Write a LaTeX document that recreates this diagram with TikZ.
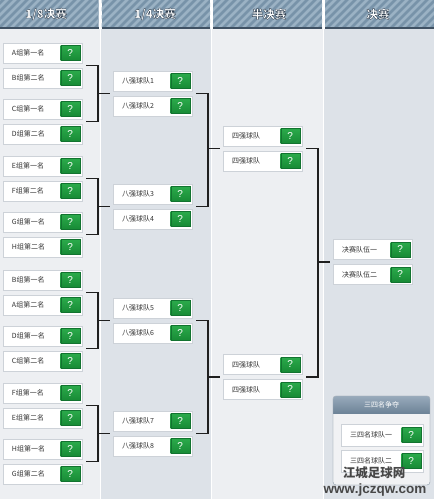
\documentclass[tikz,border=0pt]{standalone}
\usepackage{fontspec}
\newfontfamily\cjk{Noto Sans CJK SC}
\newfontfamily\qfont{Liberation Sans}
\usetikzlibrary{calc}
\definecolor{colA}{HTML}{EDEFF2}
\definecolor{colB}{HTML}{DDE2E8}
\definecolor{hdrbase}{HTML}{7893A9}
\definecolor{hdrstripe}{HTML}{9BB2C4}
\definecolor{hdrdark}{HTML}{3F5163}
\definecolor{boxline}{HTML}{CDD2D8}
\definecolor{qgreenT}{HTML}{2BAA4B}
\definecolor{qgreenB}{HTML}{178A35}
\definecolor{qdark}{HTML}{127330}
\definecolor{txt}{HTML}{333333}
\definecolor{panelbg}{HTML}{F1F2F4}
\definecolor{panelline}{HTML}{A9B3BD}
\definecolor{panelT}{HTML}{98AABB}
\definecolor{panelB}{HTML}{6E8498}
\tikzset{
  team/.style={draw=boxline, fill=white, minimum width=79pt, minimum height=20pt, inner sep=0pt},
  lbl/.style={anchor=west, font=\cjk\fontsize{7}{8}\selectfont, text=txt, inner sep=0pt},
  qm/.style={top color=qgreenT, bottom color=qgreenB, draw=qdark, line width=0.4pt,
    minimum width=19pt, minimum height=15pt, inner sep=0pt, text=white,
    font=\qfont\fontsize{10}{10}\selectfont},
  bracket/.style={draw=black!88, line width=1.5pt},
  hdr/.style={font=\cjk\bfseries\fontsize{11.5}{11.5}\selectfont, inner sep=0pt, text=white},
  wm/.style={font=\cjk\bfseries\fontsize{12.5}{12.5}\selectfont, inner sep=0pt, text=black!72},
  wm2/.style={font=\qfont\bfseries\fontsize{13.5}{13.5}\selectfont, inner sep=0pt, text=black!72},
}
\newcommand\team[5][]{%
  \node[team,#1] (#2) at (#3,#4) {};
  \node[lbl] (#2t) at ([xshift=9pt]#2.west) {#5};
  \node[qm] (#2q) at ([xshift=-12pt]#2.east) {?};
}
\newcommand\brkt[6]{%
  \draw[bracket] ($(#1.south east)!.5!(#2.north east)+(4pt,0)$) -- ++(12pt,0)
     |- ($(#3.south east)!.5!(#4.north east)+(4pt,0)$);
  \draw[bracket] ($(#5.south west)!.5!(#6.north west)+(-3pt,0)$) -- ++(-12pt,0);
}
% outlined text: white fill with thin dark stroke
\newcommand\outl[1]{\special{pdf:code 2 Tr 0.35 w 0.2 0.26 0.32 RG}#1\special{pdf:code 0 Tr}}
\begin{document}
\begin{tikzpicture}[x=1pt,y=-1pt]
\useasboundingbox (0,0) rectangle (434,499);
\fill[white] (0,0) rectangle (434,499);
% column backgrounds
\fill[colA] (0,29) rectangle (100,499);
\fill[colB] (100.8,29) rectangle (211,499);
\fill[colA] (211.8,29) rectangle (323,499);
\fill[colB] (323.8,29) rectangle (434,499);
% header bars
\foreach \a/\b in {0/98.5,101.5/210,213/322,325/434}{
  \begin{scope}
    \clip (\a,0) rectangle (\b,28);
    \fill[hdrbase] (\a,0) rectangle (\b,28);
    \foreach \i in {-40,-32,...,440} \draw[hdrstripe,line width=2.6pt] (\i,31) -- ++(34,-34);
  \end{scope}
  \draw[hdrdark,line width=1.2pt] (\a,28) -- (\b,28);
}
\node[hdr] (h1) at (46,14) {\outl{1/8决赛}};
\node[hdr] (h2) at (155,14) {\outl{1/4决赛}};
\node[hdr] (h3) at (269,14) {\outl{半决赛}};
\node[hdr] (h4) at (378,14) {\outl{决赛}};
% 1/8 column
\team{r1}{42.5}{53}{A组第一名}
\team{r2}{42.5}{78}{B组第二名}
\team{r3}{42.5}{109}{C组第一名}
\team{r4}{42.5}{134}{D组第二名}
\team{r5}{42.5}{166}{E组第一名}
\team{r6}{42.5}{191}{F组第二名}
\team{r7}{42.5}{222}{G组第一名}
\team{r8}{42.5}{247}{H组第二名}
\team{r9}{42.5}{280}{B组第一名}
\team{r10}{42.5}{305}{A组第二名}
\team{r11}{42.5}{336}{D组第一名}
\team{r12}{42.5}{361}{C组第二名}
\team{r13}{42.5}{393}{F组第一名}
\team{r14}{42.5}{418}{E组第二名}
\team{r15}{42.5}{449}{H组第一名}
\team{r16}{42.5}{474}{G组第二名}
% 1/4 column
\team{q1}{152.5}{81}{八强球队1}
\team{q2}{152.5}{106}{八强球队2}
\team{q3}{152.5}{194}{八强球队3}
\team{q4}{152.5}{219}{八强球队4}
\team{q5}{152.5}{308}{八强球队5}
\team{q6}{152.5}{333}{八强球队6}
\team{q7}{152.5}{421}{八强球队7}
\team{q8}{152.5}{446}{八强球队8}
% semi column
\team{s1}{262.5}{136}{四强球队}
\team{s2}{262.5}{161}{四强球队}
\team{s3}{262.5}{364.5}{四强球队}
\team{s4}{262.5}{389.5}{四强球队}
% final column
\team{f1}{372.5}{249.5}{决赛队伍一}
\team{f2}{372.5}{274.5}{决赛队伍二}
% brackets
\brkt{r1}{r2}{r3}{r4}{q1}{q2}
\brkt{r5}{r6}{r7}{r8}{q3}{q4}
\brkt{r9}{r10}{r11}{r12}{q5}{q6}
\brkt{r13}{r14}{r15}{r16}{q7}{q8}
\coordinate (v1) at ($(q1.south east)!.5!(q2.north east)+(16pt,0)$);
\coordinate (gs1) at ($(s1.south west)!.5!(s2.north west)+(-3pt,0)$);
\draw[bracket] ($(q1.south east)!.5!(q2.north east)+(4pt,0)$) -- ++(12pt,0)
   |- ($(q3.south east)!.5!(q4.north east)+(4pt,0)$);
\draw[bracket] (gs1) -- (v1 |- gs1);
\brkt{q5}{q6}{q7}{q8}{s3}{s4}
\brkt{s1}{s2}{s3}{s4}{f1}{f2}
% third place panel
\draw[panelline, fill=panelbg, rounded corners=3pt] (333,396) rectangle (430,485);
\begin{scope}
  \clip[rounded corners=3pt] (333,396) rectangle (430,485);
  \shade[top color=panelT, bottom color=panelB] (333,396) rectangle (430,413);
\end{scope}
\draw[panelline, rounded corners=3pt] (333,396) rectangle (430,485);
\node[font=\cjk\fontsize{7}{8}\selectfont, text=white, inner sep=0pt] (ptitle) at (381.5,404.5) {三四名争夺};
\team[minimum width=82pt, minimum height=22pt]{t1}{382}{435}{三四名球队一}
\team[minimum width=82pt, minimum height=22pt]{t2}{382}{461}{三四名球队二}
% watermark
\node[wm] (w1) at (374,473) {江城足球网};
\node[wm2] (w2) at (375,490) {www.jczqw.com};
\end{tikzpicture}
\end{document}
